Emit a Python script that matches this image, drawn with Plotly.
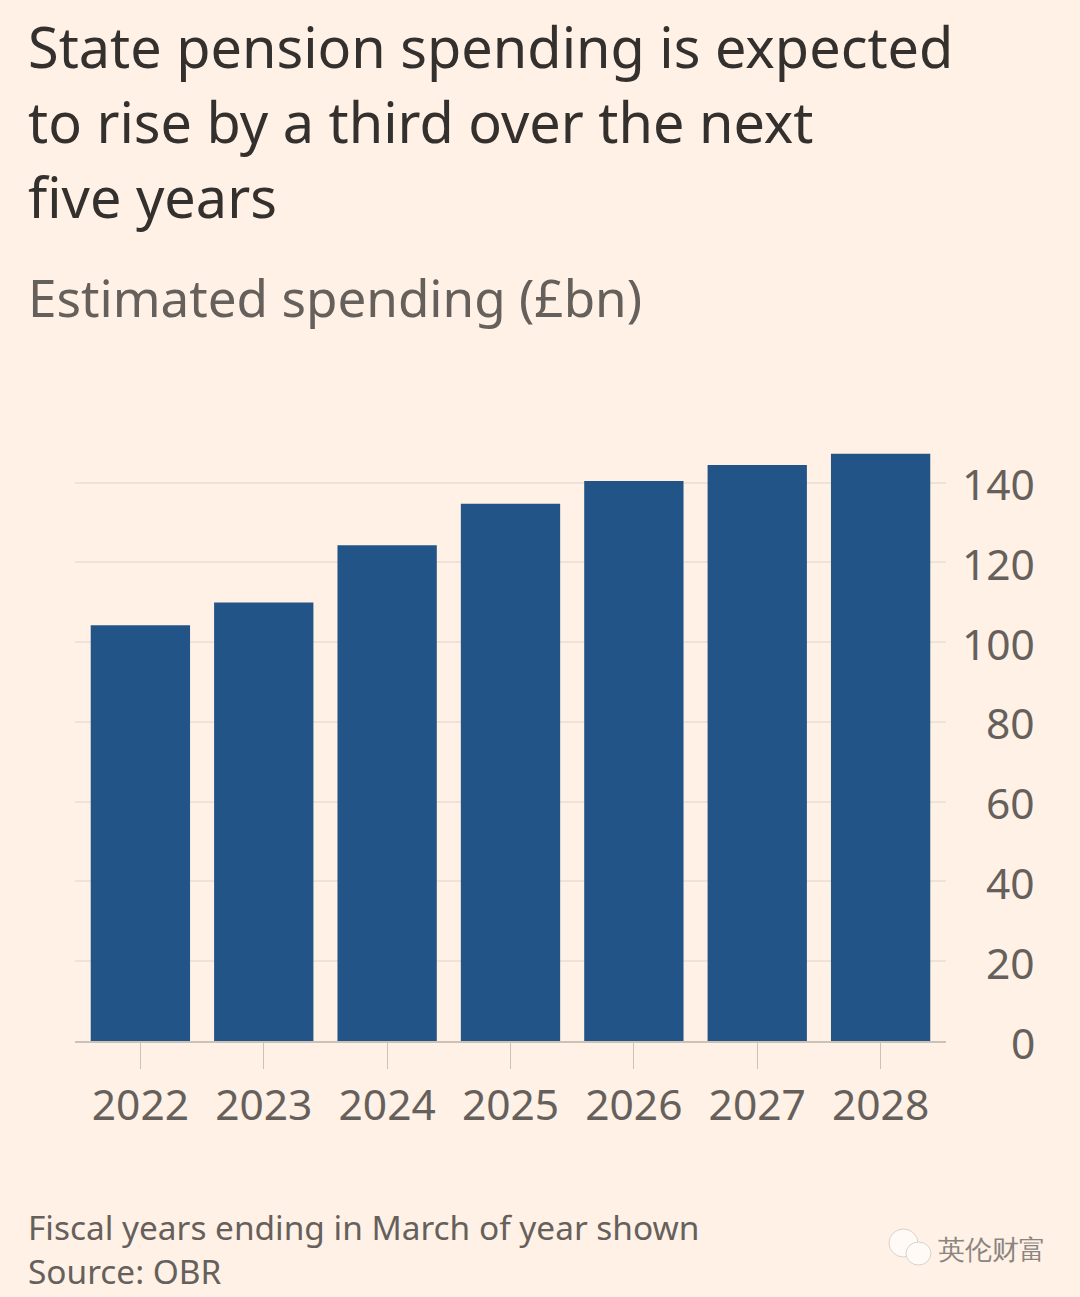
import plotly.graph_objects as go

years = ["2022", "2023", "2024", "2025", "2026", "2027", "2028"]
spending = [104.2, 109.9, 124.3, 134.7, 140.4, 144.4, 147.2]
y_ticks = [0, 20, 40, 60, 80, 100, 120, 140]

W, H = 1080, 1297
L, R, T, B = 75, 946, 441, 1041
ymax = (B - T) / (B - 482.5) * 140

fig = go.Figure(go.Bar(x=years, y=spending, marker=dict(color="#225488", line_width=0), width=0.805, hoverinfo="skip"))
fig.update_layout(
    width=W, height=H, autosize=False, paper_bgcolor="#FFF1E5", plot_bgcolor="#FFF1E5",
    margin=dict(l=L, r=W - R, t=T, b=H - B), showlegend=False,
    font=dict(family="Noto Sans", color="#66605C", size=42),
    xaxis=dict(type="category", range=[-0.53, 6.53], ticks="outside", ticklen=26, tickwidth=1, tickcolor="#CCC1B7",
               showline=True, linecolor="#CCC1B7", linewidth=2, showgrid=False,
               tickfont=dict(size=42.5, color="#66605C")),
    yaxis=dict(side="right", range=[0, ymax], tickvals=y_ticks, showticklabels=False, gridcolor="#EDE3D9", gridwidth=2,
               zeroline=False, ticks="", showline=False),
)
def text(x, y, s, size, color):
    fig.add_annotation(xref="paper", yref="paper", x=(x - L) / (R - L), y=(B - y) / (B - T), text=s, showarrow=False,
                       xanchor="left", yanchor="middle", align="left", font=dict(size=size, color=color))
text(26, 46, "State pension spending is expected", 55.8, "#33302E")
text(26, 121, "to rise by a third over the next", 55.8, "#33302E")
text(26, 196, "five years", 55.8, "#33302E")
text(26, 297, "Estimated spending (£bn)", 51.2, "#66605C")
text(26, 1227, "Fiscal years ending in March of year shown", 33.4, "#66605C")
text(26, 1271, "Source: OBR", 33.4, "#66605C")
text(936, 1249, "英伦财富", 26.5, "#8A8581")
for v in y_ticks:
    fig.add_annotation(xref="paper", yref="y", x=(1037 - L) / (R - L), y=v, yshift=-1, text=str(v), showarrow=False,
                       xanchor="right", yanchor="middle", font=dict(size=42.5, color="#66605C"))
# WeChat watermark bubbles
for x0, y0, x1, y1 in [(889, 1229, 918, 1257), (906, 1242, 931, 1265)]:
    fig.add_shape(type="circle", xref="paper", yref="paper", x0=(x0 - L) / (R - L), x1=(x1 - L) / (R - L),
                  y0=(B - y0) / (B - T), y1=(B - y1) / (B - T), fillcolor="#FFFAF6", line=dict(color="#D8D2CC", width=1))
fig.write_html("out.html", config={"displayModeBar": False},
               post_script="document.body.style.margin='0';document.documentElement.style.background='#FFF1E5';")
